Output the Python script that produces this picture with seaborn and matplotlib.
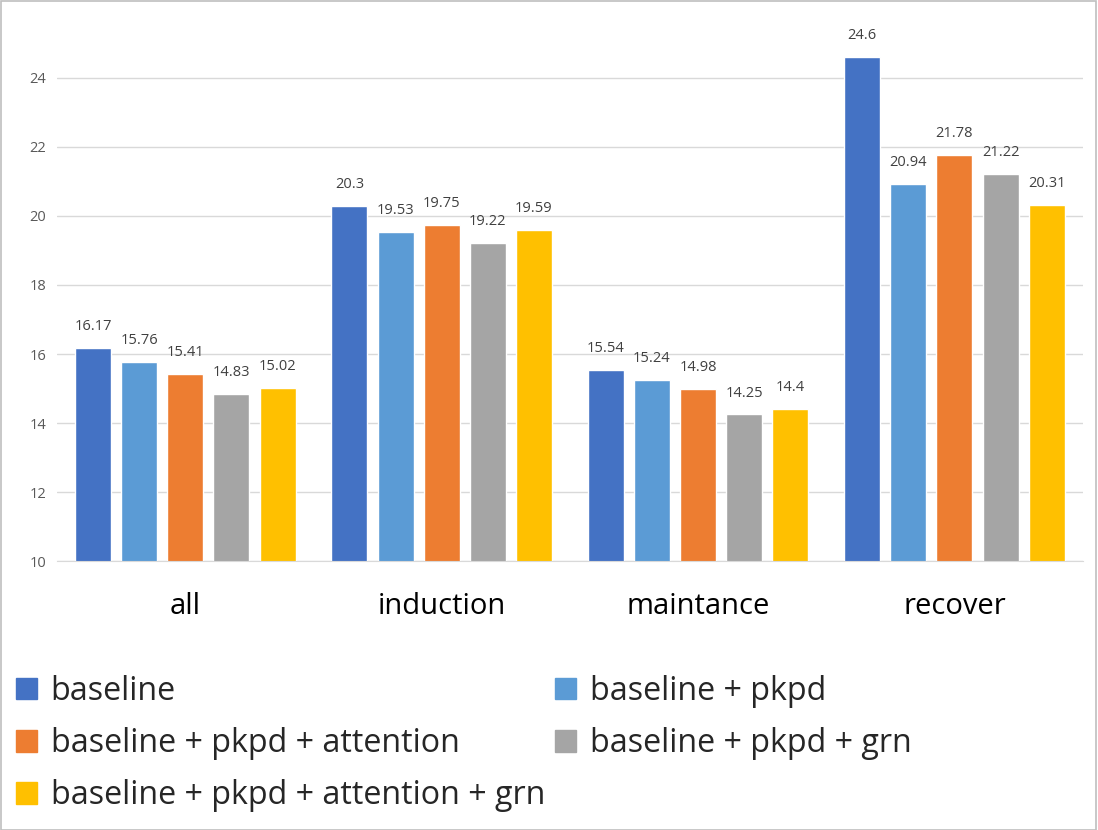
import pandas as pd
import matplotlib.pyplot as plt
import seaborn as sns
from matplotlib.patches import Rectangle, Patch

categories = ["all", "induction", "maintance", "recover"]
models = ["baseline", "baseline + pkpd", "baseline + pkpd + attention",
          "baseline + pkpd + grn", "baseline + pkpd + attention + grn"]
baseline = [16.17, 20.3, 15.54, 24.6]
pkpd = [15.76, 19.53, 15.24, 20.94]
pkpd_att = [15.41, 19.75, 14.98, 21.78]
pkpd_grn = [14.83, 19.22, 14.25, 21.22]
pkpd_att_grn = [15.02, 19.59, 14.4, 20.31]
colors = ["#4472C4", "#5B9BD5", "#ED7D31", "#A5A5A5", "#FFC000"]

series = [baseline, pkpd, pkpd_att, pkpd_grn, pkpd_att_grn]
rows = []
for m, vals in zip(models, series):
    for c, v in zip(categories, vals):
        rows.append({"category": c, "model": m, "value": v})
df = pd.DataFrame(rows)

sns.set_style("white")
plt.rcParams["font.family"] = ["Open Sans", "DejaVu Sans"]

fig = plt.figure(figsize=(10.98, 8.3), dpi=100)
ax = fig.add_axes([0.052, 0.324, 0.934, 0.657])

sns.barplot(data=df, x="category", y="value", hue="model", hue_order=models,
            palette=colors, width=0.9, gap=0.22, ax=ax, legend=False,
            saturation=1, errorbar=None)

for cont in ax.containers:
    ax.bar_label(cont, labels=[f"{v:g}" for v in cont.datavalues],
                 padding=10, fontsize=10.5, color="#404040")

ax.set_ylim(10, 25.8)
ax.set_xlim(-0.5, 3.5)
ax.set_yticks(range(10, 25, 2))
ax.yaxis.grid(True, color="#D9D9D9", linewidth=1)
ax.set_axisbelow(True)
for s in ["top", "right", "left"]:
    ax.spines[s].set_visible(False)
ax.spines["bottom"].set_color("#D9D9D9")
ax.tick_params(axis="y", length=0, labelsize=10.5, labelcolor="#595959", pad=8)
ax.tick_params(axis="x", length=0, labelsize=21, labelcolor="#000000", pad=22)
ax.set_xlabel("")
ax.set_ylabel("")

handles = [Patch(color=c, label=m) for c, m in zip(colors, models)]
order = [0, 2, 4, 1, 3]
fig.legend([handles[i] for i in order], [models[i] for i in order],
           loc="upper left", bbox_to_anchor=(0.003, 0.2025), ncol=2,
           frameon=False, fontsize=23.2, handlelength=0.65, handleheight=0.65,
           handletextpad=0.42, columnspacing=0.32, labelspacing=0.6,
           borderaxespad=0)

fig.add_artist(Rectangle((0.0005, 0.0005), 0.998, 0.998, transform=fig.transFigure,
                         fill=False, edgecolor="#BFBFBF", linewidth=1.2))

fig.savefig("out.png", dpi=100)
